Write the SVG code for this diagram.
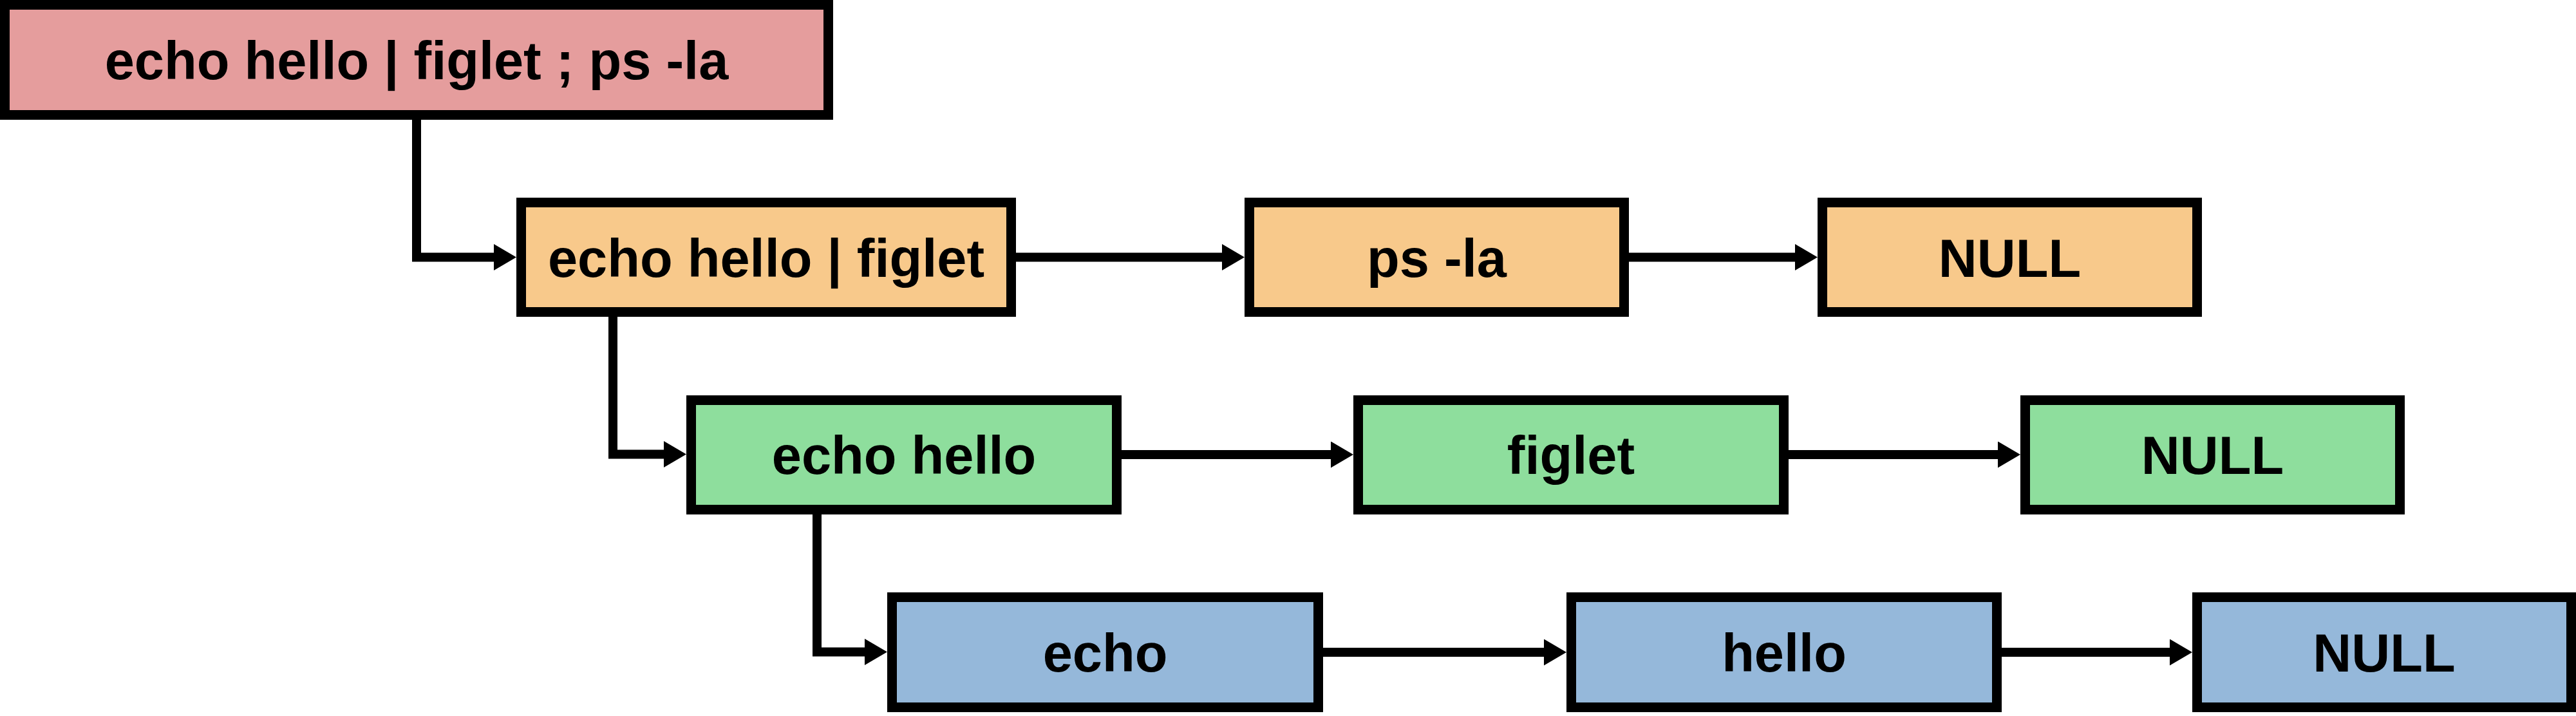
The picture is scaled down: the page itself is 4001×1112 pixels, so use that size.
<svg xmlns="http://www.w3.org/2000/svg" width="4001" height="1112" viewBox="0 0 4001 1112">
<style>
.box{stroke:#000;stroke-width:15}
.pink{fill:#E59D9D}
.orange{fill:#F8C98B}
.green{fill:#8EDE9D}
.blue{fill:#95B8DA}
.lbl{font-family:"Liberation Sans",Arial,sans-serif;font-weight:bold;font-size:83px;fill:#000;text-anchor:middle}
.conn{fill:none;stroke:#000;stroke-width:14;stroke-linejoin:miter;stroke-linecap:butt}
</style>
<defs>
<marker id="arrow" markerUnits="userSpaceOnUse" markerWidth="36" markerHeight="41" refX="1" refY="20.5" orient="auto" viewBox="0 0 36 41">
<path d="M0,0 L35,20.5 L0,41 Z" fill="#000"/>
</marker>
</defs>
<rect width="4001" height="1112" fill="#fff"/>
<g id="connectors">
<path class="conn" marker-end="url(#arrow)" d="M647,186 V399.5 H768"/>
<path class="conn" marker-end="url(#arrow)" d="M1578,399.5 H1899"/>
<path class="conn" marker-end="url(#arrow)" d="M2530,399.5 H2789"/>
<path class="conn" marker-end="url(#arrow)" d="M952,492 V705.5 H1032"/>
<path class="conn" marker-end="url(#arrow)" d="M1742,706 H2068"/>
<path class="conn" marker-end="url(#arrow)" d="M2778,706 H3104"/>
<path class="conn" marker-end="url(#arrow)" d="M1269,799 V1012.5 H1344"/>
<path class="conn" marker-end="url(#arrow)" d="M2055,1013 H2399"/>
<path class="conn" marker-end="url(#arrow)" d="M3109,1013 H3371"/>
</g>
<g id="n-root">
<rect class="box pink" x="7.5" y="7.5" width="1279" height="171"/>
<text class="lbl" x="647" y="123">echo hello | figlet ; ps -la</text>
</g>
<g id="n-pipe">
<rect class="box orange" x="809.5" y="314.5" width="761" height="170"/>
<text class="lbl" x="1190" y="430">echo hello | figlet</text>
</g>
<g id="n-ps">
<rect class="box orange" x="1940.5" y="314.5" width="582" height="170"/>
<text class="lbl" x="2231.5" y="430">ps -la</text>
</g>
<g id="n-null1">
<rect class="box orange" x="2830.5" y="314.5" width="582" height="170"/>
<text class="lbl" x="3121.5" y="430">NULL</text>
</g>
<g id="n-echohello">
<rect class="box green" x="1073.5" y="621.5" width="661" height="170"/>
<text class="lbl" x="1404" y="736">echo hello</text>
</g>
<g id="n-figlet">
<rect class="box green" x="2109.5" y="621.5" width="661" height="170"/>
<text class="lbl" x="2440" y="736">figlet</text>
</g>
<g id="n-null2">
<rect class="box green" x="3145.5" y="621.5" width="582" height="170"/>
<text class="lbl" x="3436.5" y="736">NULL</text>
</g>
<g id="n-echo">
<rect class="box blue" x="1385.5" y="927.5" width="662" height="171"/>
<text class="lbl" x="1716.5" y="1043">echo</text>
</g>
<g id="n-hello">
<rect class="box blue" x="2440.5" y="927.5" width="661" height="171"/>
<text class="lbl" x="2771" y="1043">hello</text>
</g>
<g id="n-null3">
<rect class="box blue" x="3412.5" y="927.5" width="581" height="171"/>
<text class="lbl" x="3703" y="1043">NULL</text>
</g>
</svg>
